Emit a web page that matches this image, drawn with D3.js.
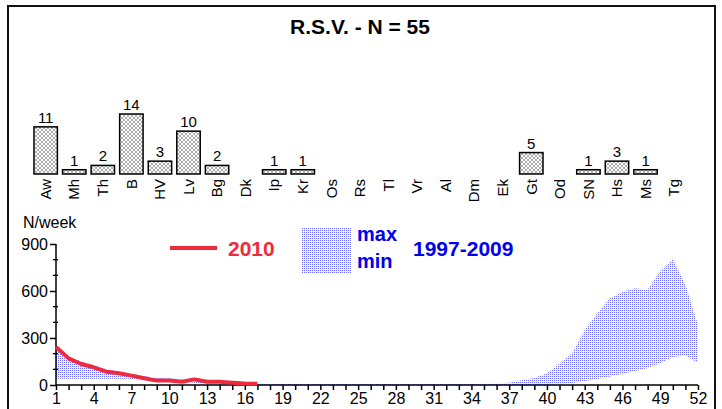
<!DOCTYPE html>
<html><head><meta charset="utf-8">
<script src="https://cdn.jsdelivr.net/npm/d3@7"></script>
<style>body{margin:0;background:#fff}svg{display:block;font-family:"Liberation Sans",Arial,sans-serif}</style>
</head><body><svg id="c" width="722" height="409"></svg>
<script>
// ---- data ----
const categories = ["Aw","Mh","Th","B","HV","Lv","Bg","Dk","Ip","Kr","Os","Rs","Tl","Vr","Al","Dm","Ek","Gt","Od","SN","Hs","Ms","Tg"];
const counts     = [11,1,2,14,3,10,2,0,1,1,0,0,0,0,0,0,0,5,0,1,3,1,0];
const weeks = d3.range(1,53);
const cases2010 = [243,170,134,113,85,75,60,43,28,28,21,36,21,20,15,10,8];
const maxRange = [245,180,150,125,100,85,72,58,45,42,38,40,28,25,20,15,12,10,
  8,8,7,7,6,6,6,6,6,6,6,6,6,6,6,7,8,10,
  15,30,45,75,138,202,350,458,553,596,617,608,730,802,640,385];
const minRange = [40,40,40,40,40,40,40,40,38,32,25,15,5,3,2,1,0,0,
  0,0,0,0,0,0,0,0,0,0,0,0,0,0,0,0,0,0,
  0,0,0,2,6,12,25,38,55,72,90,108,140,178,188,142];
const xTickLabels = d3.range(1,53,3);
const yTickLabels = [0,300,600,900];
const title = "R.S.V. - N = 55";

const svg = d3.select("#c");
const defs = svg.append("defs");
const dots = defs.append("pattern").attr("id","dots").attr("patternUnits","userSpaceOnUse").attr("width",2).attr("height",2);
dots.append("rect").attr("width",2).attr("height",2).attr("fill","#f2f2ff");
dots.append("rect").attr("width",1).attr("height",1).attr("fill","#7070ff");
const hatch = defs.append("pattern").attr("id","hatch").attr("patternUnits","userSpaceOnUse").attr("width",4).attr("height",4);
hatch.append("rect").attr("width",4).attr("height",4).attr("fill","#fff");
hatch.append("path").attr("d","M0,0L4,4M0,4L4,0").attr("stroke","#666").attr("stroke-width",0.55);

// frame
svg.append("rect").attr("x",8).attr("y",6).attr("width",707).attr("height",460)
  .attr("fill","none").attr("stroke","#111").attr("stroke-width",2);

svg.append("text").attr("x",360).attr("y",34).attr("text-anchor","middle")
  .attr("font-size",21).attr("font-weight","bold").text(title);

// ---- top bar chart ----
const xb = d3.scaleBand().domain(categories).range([31.4,688.4]).paddingInner(0.18).paddingOuter(0.09);
const yb = d3.scaleLinear().domain([0,14]).range([174,114]);
const bars = svg.append("g");
categories.forEach((c,i)=>{
  const v = counts[i];
  if(v>0){
    bars.append("rect").attr("x",xb(c)).attr("y",yb(v)).attr("width",xb.bandwidth()).attr("height",yb(0)-yb(v))
      .attr("fill","url(#hatch)").attr("stroke","#000").attr("stroke-width",1.5);
    bars.append("text").attr("x",xb(c)+xb.bandwidth()/2).attr("y",yb(v)-4).attr("text-anchor","middle")
      .attr("font-size",15).text(v);
  }
  bars.append("text").attr("transform",`translate(${xb(c)+xb.bandwidth()/2},179) rotate(-90)`)
    .attr("text-anchor","end").attr("dy","0.35em").attr("font-size",15).text(c);
});

// ---- bottom chart ----
const x = d3.scaleLinear().domain([1,52]).range([56,698]);
const y = d3.scaleLinear().domain([0,900]).range([385,244]);

const area = d3.area().x((d,i)=>x(weeks[i])).y0((d,i)=>y(minRange[i])).y1((d,i)=>y(maxRange[i]));
svg.append("path").datum(weeks).attr("d",area).attr("fill","url(#dots)");

// axes
const xAxis = d3.axisBottom(x).tickValues(weeks).tickSize(5).tickFormat(d=> xTickLabels.includes(d)? d : "");
const gx = svg.append("g").attr("transform","translate(0,385)").call(xAxis);
gx.selectAll("text").attr("font-size",16).attr("font-family","Liberation Sans, Arial, sans-serif").attr("y",19).attr("dy",null).attr("fill","#000");
gx.select(".domain").attr("stroke","#000").attr("stroke-width",1.5).attr("d","M56,0H698");
gx.selectAll(".tick line").attr("stroke","#000").attr("stroke-width",1.5);

const gy = svg.append("g").attr("transform","translate(56,0)").call(d3.axisLeft(y).tickValues(yTickLabels).tickSize(6).tickPadding(2));
gy.selectAll("text").attr("font-size",16).attr("font-family","Liberation Sans, Arial, sans-serif").attr("fill","#000");
gy.select(".domain").attr("stroke","#000").attr("stroke-width",1.5).attr("d","M0,385V244");
gy.selectAll(".tick line").attr("stroke","#000").attr("stroke-width",1.5);
svg.append("g").selectAll("line").data(d3.range(100,900,100).filter(v=>v%300)).join("line")
  .attr("x1",53).attr("x2",58).attr("y1",d=>y(d)).attr("y2",d=>y(d)).attr("stroke","#000").attr("stroke-width",1.3);

svg.append("text").attr("x",23).attr("y",228).attr("font-size",16).text("N/week");

const line = d3.line().x((d,i)=>x(weeks[i])).y(d=>y(d));
svg.append("path").datum(cases2010).attr("d",line).attr("fill","none").attr("stroke","#ee2b3d").attr("stroke-width",4).attr("stroke-linejoin","round");

// legend
svg.append("line").attr("x1",170).attr("x2",217).attr("y1",248).attr("y2",248).attr("stroke","#ee2b3d").attr("stroke-width",4);
svg.append("text").attr("x",228).attr("y",256).attr("font-size",21).attr("font-weight","bold").attr("fill","#ee2b3d").text("2010");
svg.append("rect").attr("x",302).attr("y",228).attr("width",49).attr("height",45).attr("fill","url(#dots)");
svg.append("text").attr("x",357).attr("y",241).attr("font-size",20).attr("font-weight","bold").attr("fill","#0000ee").text("max");
svg.append("text").attr("x",357).attr("y",268).attr("font-size",20).attr("font-weight","bold").attr("fill","#0000ee").text("min");
svg.append("text").attr("x",413).attr("y",256).attr("font-size",21).attr("font-weight","bold").attr("fill","#0000ee").text("1997-2009");
</script></body></html>
